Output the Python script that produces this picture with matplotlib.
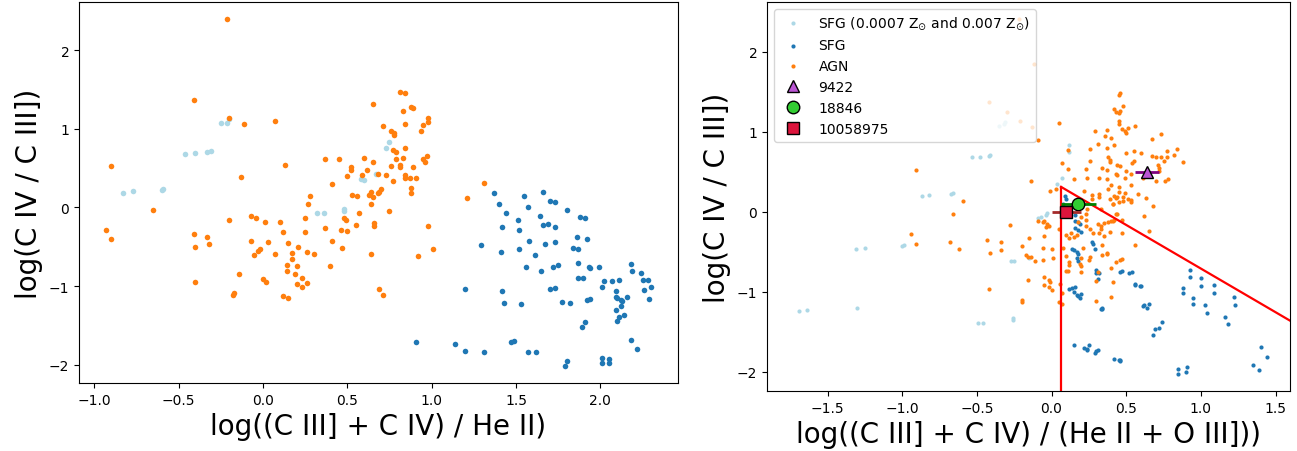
import matplotlib
matplotlib.use("Agg")
import matplotlib.pyplot as plt

# ---- left panel: log((CIII]+CIV)/HeII) vs log(CIV/CIII]) ----
l_lowz_x = [-0.25, -0.21, -0.20, -0.46, -0.40, -0.33, -0.31, -0.83, -0.77, -0.60,
            -0.59, 0.58, 0.60, 0.67, 0.73, 0.75, 0.32, 0.36, 0.48, 0.48]
l_lowz_y = [1.07, 1.07, 1.12, 0.68, 0.69, 0.70, 0.72, 0.19, 0.21, 0.22,
            0.23, 0.36, 0.35, 0.42, 0.75, 0.83, -0.07, -0.07, -0.02, -0.05]

l_sfg_x = [1.37, 1.55, 1.66, 1.40, 1.57, 1.70, 1.73, 1.44, 1.80, 1.51, 1.64, 1.88, 1.91,
           1.42, 1.52, 1.66, 1.69, 1.73, 1.58, 1.67, 1.73, 1.86, 1.92, 1.29, 1.41, 1.52,
           1.61, 1.84, 1.87, 1.56, 1.65, 1.72, 1.75, 1.87, 1.93, 1.94, 1.99, 2.18, 2.19,
           2.24, 2.25, 2.28, 2.30, 2.26, 2.29, 2.07, 2.11, 2.02, 2.01, 2.09, 2.09, 2.10,
           2.12, 2.13, 2.12, 2.16, 2.09, 2.14, 2.11, 2.10, 1.87, 1.90, 1.70, 1.73, 1.92,
           1.94, 1.77, 1.82, 1.20, 1.42, 1.43, 1.53, 1.91, 1.89, 0.91, 1.14, 1.20, 1.31,
           1.47, 1.49, 1.57, 1.62, 1.80, 1.79, 2.01, 2.01, 2.05, 2.05, 2.18, 2.22]
l_sfg_y = [0.18, 0.14, 0.20, 0.05, 0.01, 0.08, 0.07, -0.07, -0.03, -0.16, -0.11, -0.12, -0.13,
           -0.25, -0.28, -0.22, -0.21, -0.25, -0.42, -0.46, -0.44, -0.37, -0.40, -0.48, -0.56, -0.53,
           -0.61, -0.52, -0.53, -0.76, -0.81, -0.75, -0.73, -0.71, -0.75, -0.77, -0.75, -0.72, -0.81,
           -0.83, -0.92, -0.92, -1.01, -1.05, -1.16, -0.94, -0.92, -0.94, -1.01, -1.06, -1.14, -1.15,
           -1.17, -1.19, -1.25, -1.14, -1.30, -1.37, -1.39, -1.44, -0.90, -0.90, -1.03, -1.02, -1.18,
           -1.16, -1.20, -1.21, -1.03, -1.06, -1.21, -1.22, -1.46, -1.52, -1.71, -1.74, -1.82, -1.84,
           -1.71, -1.70, -1.83, -1.84, -1.95, -2.02, -1.91, -1.98, -1.92, -1.97, -1.68, -1.80]

l_agn_x = [-0.21, -0.41, -0.20, -0.11, 0.07, 0.65, -0.90, 0.13, 0.37, 0.45, 0.60, 0.65, 0.52,
           0.52, 0.50, 0.59, 0.62, 0.68, -0.13, 0.41, 0.28, 0.53, 0.56, 0.64, 0.65, 0.68,
           0.81, 0.84, 0.83, 0.88, 0.89, 0.98, 0.98, 0.95, 0.84, 0.71, 0.76, 0.78, 0.94,
           0.84, 0.77, 0.79, 0.79, 0.83, 0.76, 0.81, 0.81, 0.89, 0.95, 0.97, 0.96, 0.73,
           0.84, 0.84, 0.87, 0.91, 0.77, 0.88, 0.88, 0.70, 0.69, 1.31, 1.21, 0.64, 0.75,
           0.66, 0.66, 0.98, 1.01, 0.92, 0.64, 0.69, 0.71, 0.27, -0.65, -0.93, -0.90, -0.41,
           -0.40, -0.33, -0.32, -0.40, -0.20, -0.07, -0.04, 0.01, 0.10, 0.12, 0.25, 0.25,
           0.37, 0.41, 0.46, 0.48, 0.49, 0.50, 0.47, 0.55, 0.57, -0.07, 0.03, -0.02, -0.03,
           -0.05, 0.07, 0.15, 0.17, 0.17, 0.21, 0.26, 0.30, 0.14, 0.20, 0.14, 0.19, 0.20,
           0.23, 0.26, 0.23, 0.40, 0.00, 0.02, 0.12, 0.15, -0.14, -0.18, -0.17, 0.78, 0.63]
l_agn_y = [2.39, 1.37, 1.14, 1.06, 1.10, 1.31, 0.53, 0.54, 0.61, 0.61, 0.63, 0.58, 0.51,
           0.47, 0.40, 0.41, 0.47, 0.42, 0.39, 0.30, 0.14, 0.16, 0.15, 0.20, 0.13, 0.18,
           1.47, 1.45, 1.22, 1.28, 1.26, 1.14, 1.09, 1.05, 1.06, 1.03, 0.97, 0.92, 0.97,
           0.76, 0.73, 0.70, 0.61, 0.63, 0.53, 0.54, 0.52, 0.52, 0.62, 0.65, 0.58, 0.41,
           0.41, 0.38, 0.38, 0.38, 0.34, 0.25, 0.19, 0.23, 0.20, 0.31, 0.12, 0.04, -0.05,
           -0.20, -0.23, -0.23, -0.53, -0.62, -0.59, -1.04, -1.11, 0.04, -0.03, -0.28, -0.40, -0.34,
           -0.50, -0.37, -0.47, -0.95, -0.16, -0.11, -0.13, -0.18, -0.18, -0.31, -0.14, -0.31,
           -0.26, -0.42, -0.29, -0.14, -0.16, -0.30, -0.52, -0.22, -0.07, -0.43, -0.44, -0.53, -0.55,
           -0.61, -0.59, -0.45, -0.58, -0.66, -0.50, -0.56, -0.59, -0.73, -0.74, -0.81, -0.85, -0.97,
           -1.01, -0.96, -0.90, -0.74, -0.91, -0.95, -1.12, -1.15, -0.84, -1.11, -1.09, 0.94, 0.16]

# ---- right panel: log((CIII]+CIV)/(HeII+OIII])) vs log(CIV/CIII]) ----
r_lowz_x = [-1.69, -1.64, -1.30, -1.31, -1.25, -1.00, -0.99, -0.87, -0.82, -0.67, -0.66,
            -0.49, -0.46, -0.26, -0.26, -0.27, -0.25, -0.15, -0.09, -0.07, -0.04, -0.03,
            0.04, -0.53, -0.48, -0.42, -0.41, 0.12, 0.12, 0.07, -0.35, -0.32, -0.31]
r_lowz_y = [-1.24, -1.23, -1.20, -0.46, -0.45, -0.43, -0.41, 0.20, 0.21, 0.22, 0.23,
            -1.39, -1.39, -1.33, -1.35, -0.62, -0.61, -0.58, -0.08, -0.07, -0.04, -0.02,
            0.35, 0.68, 0.68, 0.70, 0.71, 0.83, 0.75, 0.42, 1.07, 1.09, 1.12]

r_sfg_x = [0.08, 0.10, 0.09, 0.16, 0.16, 0.18, 0.19, 0.16, 0.18, 0.20, 0.27, 0.28, 0.29,
           0.14, 0.15, 0.17, 0.18, 0.18, 0.17, 0.30, 0.30, 0.32, 0.31, 0.46, 0.47, 0.52,
           0.54, 0.56, 0.56, 0.59, 0.60, 0.12, 0.14, 0.15, 0.16, 0.17, 0.18, 0.20, 0.19,
           0.33, 0.34, 0.34, 0.61, 0.62, 0.65, 0.64, 0.74, 0.72, 0.69, 0.68, 0.15, 0.22,
           0.24, 0.25, 0.24, 0.29, 0.31, 0.30, 0.42, 0.45, 0.46, 0.46, 0.93, 0.93, 1.00,
           1.00, 0.88, 0.88, 0.95, 0.95, 1.09, 1.09, 1.03, 1.04, 1.22, 1.23, 1.16, 1.18,
           0.85, 0.91, 0.90, 0.85, 1.40, 1.44, 1.35, 1.39]
r_sfg_y = [0.10, 0.16, 0.20, -0.04, -0.12, -0.13, -0.15, -0.20, -0.23, -0.25, -0.38, -0.40, -0.46,
           -0.47, -0.48, -0.50, -0.53, -0.61, -0.58, -0.73, -0.77, -0.76, -0.84, -0.75, -0.74, -0.77,
           -0.75, -0.91, -0.90, -0.93, -0.93, -0.97, -0.95, -1.00, -0.94, -1.04, -1.05, -1.03, -1.08,
           -1.21, -1.22, -1.20, -1.18, -1.17, -1.15, -1.20, -1.38, -1.45, -1.47, -1.54, -1.67, -1.70,
           -1.72, -1.66, -1.73, -1.76, -1.73, -1.74, -1.84, -1.85, -1.85, -1.86, -0.73, -0.81, -0.83,
           -0.93, -0.95, -1.02, -1.08, -1.15, -0.92, -1.02, -1.17, -1.26, -1.06, -1.17, -1.32, -1.40,
           -1.96, -1.94, -2.00, -2.03, -1.69, -1.82, -1.92, -1.98]

r_agn_x = [0.45, 0.46, 0.42, 0.48, 0.43, 0.45, 0.46, 0.45, 0.45, 0.47, 0.49, 0.51, 0.50, 0.56,
           0.29, 0.37, 0.36, 0.40, 0.05, 0.67, 0.73, 0.31, 0.37, 0.42, 0.26, 0.50, 0.55, 0.60,
           0.67, 0.70, 0.73, 0.77, 0.77, 0.84, 0.82, 0.88, 0.38, 0.39, 0.39, 0.11, 0.07, 0.11,
           0.26, 0.34, 0.37, 0.44, 0.46, 0.50, 0.43, 0.44, 0.54, 0.55, 0.53, 0.49, 0.23, 0.24,
           0.15, 0.32, 0.37, 0.61, 0.70, 0.76, 0.78, 0.71, 0.72, 0.72, 0.75, -0.14, -0.01, 0.03,
           0.22, 0.27, 0.27, 0.32, 0.32, 0.40, 0.38, 0.45, 0.45, 0.42, 0.43, 0.44, 0.49, 0.48,
           0.51, 0.53, 0.58, 0.53, 0.63, 0.39, 0.41, 0.48, 0.24, 0.23, 0.33, 0.68, 0.62, -0.91,
           -0.59, -0.66, -0.28, -0.94, -0.05, -0.03, -0.02, -0.91, -0.68, -0.62, -0.43, -0.41, -0.34,
           -0.34, -0.20, -0.15, -0.17, -0.16, -0.14, -0.11, -0.09, -0.06, -0.04, -0.05, -0.06, -0.06,
           0.00, 0.01, 0.05, -0.16, -0.05, -0.05, -0.02, -0.02, -0.01, 0.00, -0.42, -0.20, -0.20,
           0.05, 0.07, 0.08, 0.10, 0.13, 0.12, 0.15, 0.10, 0.12, 0.12, 0.10, 0.11, 0.06, 0.07,
           0.20, 0.20, 0.19, 0.20, 0.18, 0.20, 0.23, 0.23, 0.26, 0.31, 0.33, 0.33, 0.35, 0.38,
           0.41, 0.42, 0.43, 0.44, 0.32, 0.28, 0.35, 0.39, 0.34, 0.37, 0.34, 0.26, 0.25, 0.31,
           0.30, 0.41, 0.43, 0.47, 0.40, 0.47, 0.56, 0.41, 0.45, 0.53, 0.30, 0.40, 0.17, 0.21,
           0.65, 0.47, 0.40, 0.37, 0.46, -0.22, -0.12, -0.42, -0.30, -0.21, -0.13, -0.09]
r_agn_y = [1.46, 1.48, 1.28, 1.32, 1.24, 1.23, 1.26, 1.13, 1.09, 1.03, 1.01, 1.04, 0.98, 1.07,
           1.01, 1.02, 0.95, 0.92, 1.11, 0.91, 0.97, 0.84, 0.80, 0.83, 0.79, 0.73, 0.76, 0.74,
           0.70, 0.69, 0.68, 0.68, 0.76, 0.78, 0.71, 0.62, 0.68, 0.65, 0.62, 0.77, 0.61, 0.54,
           0.63, 0.55, 0.52, 0.58, 0.57, 0.51, 0.47, 0.46, 0.61, 0.63, 0.47, 0.42, 0.53, 0.42,
           0.41, 0.42, 0.41, 0.42, 0.38, 0.38, 0.41, 0.58, 0.55, 0.51, 0.63, 0.39, 0.26, 0.28,
           0.26, 0.21, 0.16, 0.22, 0.18, 0.33, 0.29, 0.31, 0.25, 0.20, 0.17, 0.18, 0.23, 0.18,
           0.16, 0.15, 0.22, 0.33, 0.17, 0.16, 0.10, 0.13, 0.03, -0.03, 0.03, 0.07, -0.05, 0.52,
           0.13, -0.03, -0.16, -0.28, -0.11, -0.15, -0.18, -0.40, -0.38, -0.47, -0.35, -0.51, -0.38,
           -0.48, -0.43, -0.33, -0.54, -0.56, -0.57, -0.62, -0.12, -0.13, -0.19, -0.30, -0.45, -0.60,
           -0.46, -0.58, -0.22, -0.85, -0.81, -0.92, -0.94, -0.85, -0.88, -0.98, -0.96, -1.13, -1.10,
           -1.13, -1.15, -0.45, -0.29, -0.27, -0.33, -0.31, -0.55, -0.63, -0.67, -0.74, -0.74, -0.90,
           -1.02, -0.58, -0.68, -0.65, -0.75, -0.13, -0.07, -0.10, -0.18, -0.21, -0.15, -0.18, -0.21,
           -0.14, -0.13, -0.12, -0.10, -0.03, -0.03, -0.27, -0.26, -0.30, -0.25, -0.42, -0.53, -0.54,
           -0.57, -0.60, -0.75, -0.86, -0.88, -0.63, -0.59, -0.70, -0.26, -0.41, 0.10, 0.12, 0.12,
           -1.12, -1.06, -0.29, -0.45, -0.24, -0.10, -0.11, -0.51, -0.60, 2.41, 1.85, 1.37, 1.24,
           1.13, 1.06, 0.89]

# individual objects (x, y, x error)
obj_names = ["9422", "18846", "10058975"]
obj_x = [0.64, 0.18, 0.10]
obj_y = [0.50, 0.10, 0.00]
obj_xerr = [0.08, 0.115, 0.10]

# demarcation line
line_x0 = 0.064
line_slope = -1.09
line_icpt = 0.38

fig = plt.figure(figsize=(12.97, 4.52), dpi=100)
ax1 = fig.add_axes([0.0609, 0.1504, 0.4618, 0.843])
ax2 = fig.add_axes([0.5914, 0.1327, 0.4032, 0.8606])

ax1.scatter(l_lowz_x, l_lowz_y, s=16, color="lightblue", linewidths=0)
ax1.scatter(l_sfg_x, l_sfg_y, s=16, color="#1f77b4", linewidths=0)
ax1.scatter(l_agn_x, l_agn_y, s=16, color="#ff7f0e", linewidths=0)
ax1.set_xlim(-1.09, 2.46)
ax1.set_ylim(-2.23, 2.61)
ax1.set_xlabel("log((C III] + C IV) / He II)", fontsize=20)
ax1.set_ylabel("log(C IV / C III])", fontsize=20)

ax2.scatter(r_lowz_x, r_lowz_y, s=9, color="lightblue", linewidths=0,
            label=r"SFG (0.0007 Z$_{\odot}$ and 0.007 Z$_{\odot}$)")
ax2.scatter(r_sfg_x, r_sfg_y, s=9, color="#1f77b4", linewidths=0, label="SFG")
ax2.scatter(r_agn_x, r_agn_y, s=9, color="#ff7f0e", linewidths=0, label="AGN")

# boundary lines
y_top = line_icpt + line_slope * line_x0
ax2.plot([line_x0, line_x0], [-3, y_top], color="red", lw=1.6)
ax2.plot([line_x0, 2.0], [y_top, line_icpt + line_slope * 2.0], color="red", lw=1.6)

markers = ["^", "o", "s"]
fcols = ["mediumorchid", "limegreen", "crimson"]
ecols = ["purple", "green", "brown"]
for i in range(3):
    ax2.errorbar(obj_x[i], obj_y[i], xerr=obj_xerr[i], fmt="none", ecolor=ecols[i], lw=2)
    ax2.plot(obj_x[i], obj_y[i], marker=markers[i], ls="none", ms=9,
             mfc=fcols[i], mec="black", mew=1.0, label=obj_names[i])

ax2.set_xlim(-1.905, 1.597)
ax2.set_ylim(-2.24, 2.62)
ax2.set_xlabel("log((C III] + C IV) / (He II + O III]))", fontsize=20)
ax2.set_ylabel("log(C IV / C III])", fontsize=20)
ax2.legend(loc="upper left", fontsize=10)

fig.savefig("out.png", dpi=100)
